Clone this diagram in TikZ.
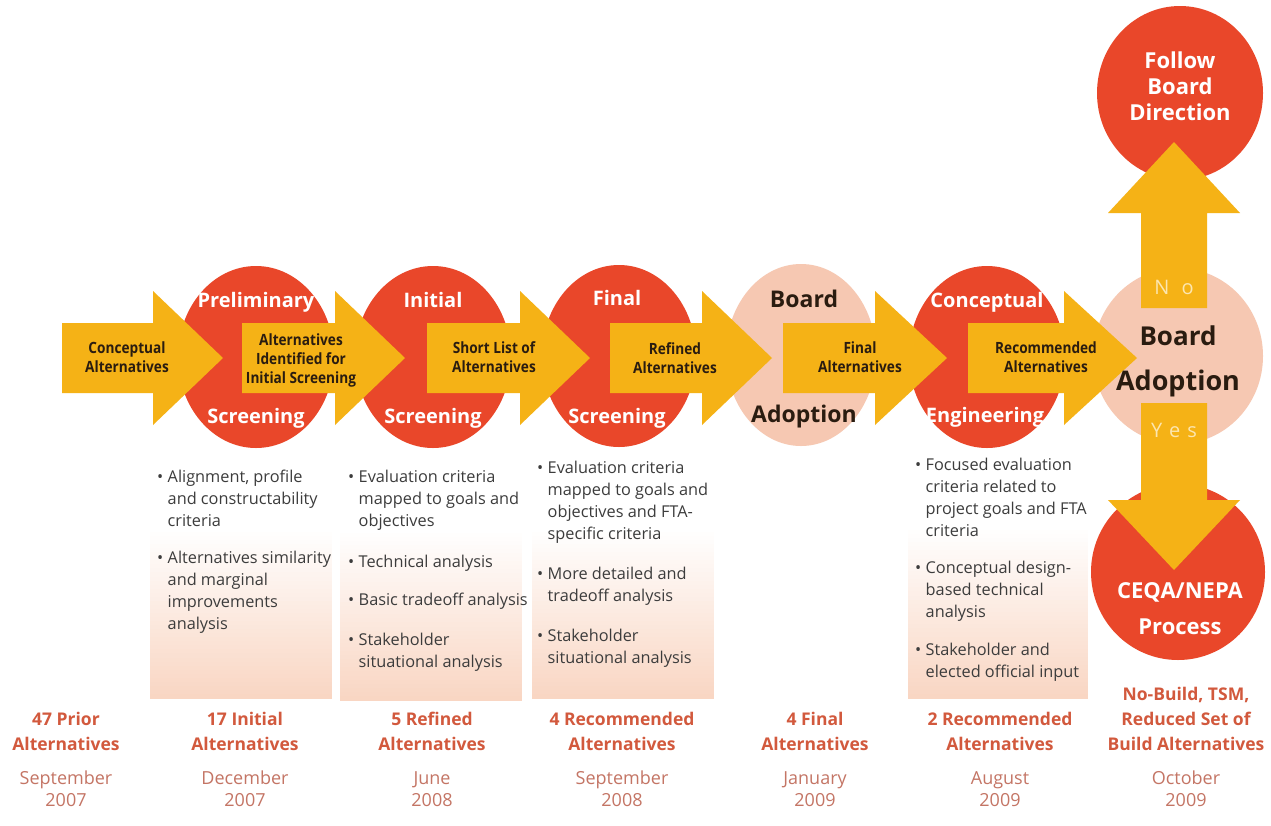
\documentclass[tikz,border=0pt]{standalone}
\usepackage{fontspec}
\setmainfont{Open Sans}
\newfontfamily\arrfont[FakeStretch=0.88]{Open Sans}
\definecolor{cred}{HTML}{E9472A}
\definecolor{cpink}{HTML}{F6C8B2}
\definecolor{carrow}{HTML}{F5B216}
\definecolor{cpeach}{HTML}{F9D6C3}
\definecolor{cdark}{HTML}{2A1C10}
\definecolor{cgray}{HTML}{3C3C3C}
\definecolor{clab}{HTML}{D2593D}
\definecolor{cdate}{HTML}{C47565}
\definecolor{cpale}{HTML}{FCE6B0}
\tikzset{
  ctxt/.style={font=\bfseries\fontsize{20}{24}\selectfont, text=white, inner sep=0, anchor=base},
  ptxt/.style={font=\bfseries\fontsize{23}{27}\selectfont, text=cdark, inner sep=0, anchor=base},
  atxt/.style={font=\arrfont\bfseries\fontsize{15.5}{19}\selectfont, text=cdark, align=center, inner sep=0},
  btxt/.style={font=\fontsize{16.3}{20}\selectfont, text=cgray, inner sep=0, anchor=base west},
  lbold/.style={font=\bfseries\fontsize{17.5}{20}\selectfont, text=clab, inner sep=0, anchor=base},
  ldate/.style={font=\fontsize{18}{20}\selectfont, text=cdate, inner sep=0, anchor=base},
  yntxt/.style={font=\fontsize{20}{24}\selectfont, text=cpale, inner sep=0, anchor=base},
}
\newcommand\gradbox[4]{%
  \foreach \k in {0,...,59}{%
    \pgfmathtruncatemacro\pct{max(0,min(100,(\k/59-0.3)/0.7*100))}%
    \fill[cpeach!\pct!white] (#1,{#2+(#4-#2)*\k/60}) rectangle (#3,{#2+(#4-#2)*(\k+1)/60+0.7});
  }}
\newcommand\harrow[3]{%
  \fill[carrow] (#1,323) -- (#2,323) -- (#2,291) -- (#3,358) -- (#2,425) -- (#2,393) -- (#1,393) -- cycle;}
\newcommand\bitem[4]{%
  \node[btxt] (#1-b) at (#2,#3) {\textbullet};
  \foreach \tline [count=\i] in {#4} {\node[btxt] (#1-\i) at (#2+10.5, #3+22.3*\i-22.3) {\tline};}
}
\newcommand\collabel[6]{%
  \node[lbold] (#1-a) at (#2,725) {#3};
  \node[lbold] (#1-b) at (#2,750) {#4};
  \node[ldate] (#1-c) at (#2,784) {#5};
  \node[ldate] (#1-d) at (#2,806) {#6};
}
\begin{document}
\begin{tikzpicture}[x=1pt,y=-1pt]
\useasboundingbox (0,0) rectangle (1271,825);
\fill[white] (0,0) rectangle (1271,825);

% info boxes (white at top, peach at bottom)
\gradbox{150}{455}{332}{698}
\gradbox{340}{455}{522}{700}
\gradbox{532}{455}{714}{698}
\gradbox{908}{452}{1088}{698}

% circles
\fill[cred] (256,357) ellipse [x radius=78, y radius=91];
\fill[cred] (433,357) ellipse [x radius=78, y radius=91];
\fill[cred] (619,356) ellipse [x radius=77, y radius=91];
\fill[cpink] (801,355) ellipse [x radius=75, y radius=91];
\fill[cred] (987,357) ellipse [x radius=78, y radius=91];
\fill[cpink] (1178,356) ellipse [x radius=85, y radius=88];
\fill[cred] (1180,93) ellipse [x radius=83, y radius=87];
\fill[cred] (1178,572) ellipse [x radius=87, y radius=88];

% circle labels
\node[ctxt] (prelim) at (256,307) {Preliminary};
\node[ctxt] (prelimS) at (256,423) {Screening};
\node[ctxt] (init) at (433,307) {Initial};
\node[ctxt] (initS) at (433,423) {Screening};
\node[ctxt] (fin) at (617,305) {Final};
\node[ctxt] (finS) at (617,423) {Screening};
\node[ptxt] (bo1) at (804,307) {Board};
\node[ptxt] (ad1) at (804,422) {Adoption};
\node[ctxt] (conc) at (987,307) {Conceptual};
\node[ctxt] (eng) at (985,422) {Engineering};

% horizontal arrows
\harrow{62}{153}{223}
\harrow{242}{335}{405}
\harrow{427}{520}{590}
\harrow{610}{702}{772}
\harrow{783}{875}{947}
\harrow{968}{1064}{1137}

% vertical arrows
\fill[carrow] (1141,308) -- (1141,213) -- (1108,213) -- (1174,142) -- (1240,213) -- (1207,213) -- (1207,308) -- cycle;
\fill[carrow] (1141,403) -- (1141,500) -- (1108,500) -- (1174,570) -- (1240,500) -- (1207,500) -- (1207,403) -- cycle;

% right board
\node[font=\bfseries\fontsize{26}{30}\selectfont, text=cdark, inner sep=0, anchor=base] (bo2) at (1178,345) {Board};
\node[font=\bfseries\fontsize{27}{30}\selectfont, text=cdark, inner sep=0, anchor=base] (ad2) at (1178,390) {Adoption};
\node[yntxt] (no) at (1174,294) {N\hspace{12pt}o};
\node[yntxt] (yes) at (1174,437) {Y\hspace{7pt}e\hspace{7pt}s};

% follow / ceqa
\node[font=\bfseries\fontsize{22}{26}\selectfont, text=white, inner sep=0, align=center] (follow) at (1180,86) {Follow\\Board\\Direction};
\node[font=\bfseries\fontsize{22}{26}\selectfont, text=white, inner sep=0, anchor=base] (ceqa) at (1180,598) {CEQA/NEPA};
\node[font=\bfseries\fontsize{22}{26}\selectfont, text=white, inner sep=0, anchor=base] (proc) at (1180,634) {Process};

% arrow labels
\node[atxt] (a1) at (127,357) {Conceptual\\Alternatives};
\node[atxt] (a2) at (301,360) {Alternatives\\Identified for\\Initial Screening};
\node[atxt] (a3) at (494,357) {Short List of\\Alternatives};
\node[atxt] (a4) at (675,358) {Refined\\Alternatives};
\node[atxt] (a5) at (860,357) {Final\\Alternatives};
\node[atxt] (a6) at (1046,357) {Recommended\\Alternatives};

% bullet texts
\bitem{p1}{157}{482}{{Alignment, profile},{and constructability},criteria}
\bitem{p2}{157}{563}{{Alternatives similarity},{and marginal},improvements,analysis}
\bitem{q1}{348}{482}{{Evaluation criteria},{mapped to goals and},objectives}
\bitem{q2}{348}{567}{{Technical analysis}}
\bitem{q3}{348}{605}{{Basic tradeoff analysis}}
\bitem{q4}{348}{645}{Stakeholder,{situational analysis}}
\bitem{r1}{537}{473}{{Evaluation criteria},{mapped to goals and},{objectives and FTA-},{specific criteria}}
\bitem{r2}{537}{579}{{More detailed and},{tradeoff analysis}}
\bitem{r3}{537}{641}{Stakeholder,{situational analysis}}
\bitem{s1}{915}{470}{{Focused evaluation},{criteria related to},{project goals and FTA},criteria}
\bitem{s2}{915}{573}{{Conceptual design-},{based technical},analysis}
\bitem{s3}{915}{655}{{Stakeholder and},{elected official input}}

% bottom labels
\collabel{c1}{66}{47 Prior}{Alternatives}{September}{2007}
\collabel{c2}{245}{17 Initial}{Alternatives}{December}{2007}
\collabel{c3}{432}{5 Refined}{Alternatives}{June}{2008}
\collabel{c4}{622}{4 Recommended}{Alternatives}{September}{2008}
\collabel{c5}{815}{4 Final}{Alternatives}{January}{2009}
\collabel{c6}{1000}{2 Recommended}{Alternatives}{August}{2009}
\node[lbold] (c7-a) at (1186,700) {No-Build, TSM,};
\node[lbold] (c7-b) at (1186,725) {Reduced Set of};
\node[lbold] (c7-c) at (1186,750) {Build Alternatives};
\node[ldate] (c7-d) at (1186,784) {October};
\node[ldate] (c7-e) at (1186,806) {2009};
\end{tikzpicture}
\end{document}
